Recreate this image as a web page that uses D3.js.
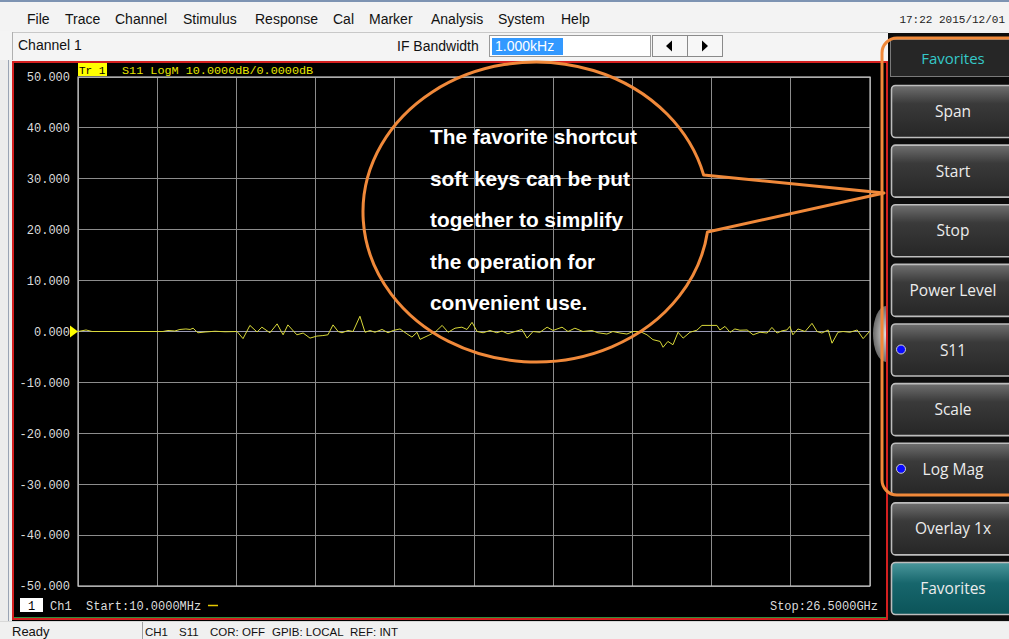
<!DOCTYPE html>
<html><head><meta charset="utf-8">
<script src="https://cdn.jsdelivr.net/npm/d3@7"></script>
<style>
html,body{margin:0;padding:0;background:#f0f0f0;overflow:hidden}
svg{display:block}
</style></head><body>
<script>
// ---------- data ----------
const menuItems = ["File","Trace","Channel","Stimulus","Response","Cal","Marker","Analysis","System","Help"];
const freqGHz = [0.01,0.28,0.48,2.85,3.02,3.25,3.42,3.62,3.76,3.86,4.02,4.26,4.59,4.93,5.33,5.53,5.76,6.00,6.16,6.43,6.67,6.87,7.03,7.33,7.54,7.77,8.00,8.20,8.37,8.54,8.71,8.84,9.04,9.21,9.44,9.61,9.78,9.94,10.18,10.38,10.55,10.78,11.01,11.18,11.35,11.45,11.72,11.95,12.19,12.39,12.62,12.85,13.02,13.19,13.36,13.56,13.79,14.02,14.19,14.39,14.63,14.86,15.03,15.23,15.46,15.70,15.90,16.20,16.40,16.63,16.90,17.20,17.40,17.47,17.70,17.90,18.14,18.37,18.57,18.81,19.04,19.24,19.48,19.58,19.74,19.91,20.08,20.25,20.48,20.71,20.88,21.38,21.48,21.65,21.82,21.98,22.15,22.39,22.59,22.82,23.06,23.22,23.39,23.56,23.72,23.82,23.92,24.09,24.33,24.56,24.73,24.89,25.10,25.23,25.43,25.60,25.83,26.07,26.27,26.50];
const s11dB = [0,0.3,0,0,0.2,0.1,0.4,0.5,0.4,0.65,-0.25,-0.1,0.05,-0.05,0,-1.4,1.2,-0.1,0.85,-0.25,1.5,-0.65,1.3,-0.65,-0.3,-1.3,-0.9,-0.8,-0.65,1.3,0,-0.25,0.2,0,3.0,-0.15,0.2,-0.15,0.4,-0.25,0.2,0.5,-0.45,-1.1,-0.15,-1.55,-0.8,-0.15,1.2,-0.15,0.65,0.85,0.4,1.8,0,-0.25,0.2,-0.25,0.1,-0.45,0,0.4,-1.3,0,-0.15,0.85,0.2,0.85,0,0.65,0,0.2,-0.25,-0.3,-0.5,0,-0.3,-0.5,0,0,-0.65,-1.6,-1.95,-3.1,-1.95,-2.6,-0.15,-1.3,-0.15,0.25,1.2,1.2,0.3,1.0,-0.15,0.5,0.25,0.3,-0.65,-0.15,-0.3,0.8,-0.3,0.15,0.3,1.0,-0.65,0.5,0,1.6,0,-0.3,0.3,-2.3,-0.15,0,-0.15,0.3,-1.4,0.1];
const yTicks = [50,40,30,20,10,0,-10,-20,-30,-40,-50];
const softkeys = ["Span","Start","Stop","Power Level","S11","Scale","Log Mag","Overlay 1x","Favorites"];
const softkeyDots = ["S11","Log Mag"];
const calloutLines = ["The favorite shortcut","soft keys can be put","together to simplify","the operation for","convenient use."];
const statusItems = [{t:"CH1",x:145},{t:"S11",x:179},{t:"COR: OFF",x:210},{t:"GPIB: LOCAL",x:272},{t:"REF: INT",x:350}];

// ---------- setup ----------
const W = 1009, H = 639;
const svg = d3.select("body").append("svg").attr("width", W).attr("height", H);
const defs = svg.append("defs");
const g1 = defs.append("linearGradient").attr("id","btn").attr("x1",0).attr("y1",0).attr("x2",0).attr("y2",1);
g1.append("stop").attr("offset","0").attr("stop-color","#707070");
g1.append("stop").attr("offset","0.35").attr("stop-color","#3a3a3a");
g1.append("stop").attr("offset","1").attr("stop-color","#262626");
const g2 = defs.append("linearGradient").attr("id","btnTeal").attr("x1",0).attr("y1",0).attr("x2",0).attr("y2",1);
g2.append("stop").attr("offset","0").attr("stop-color","#4a979c");
g2.append("stop").attr("offset","0.4").attr("stop-color","#17666c");
g2.append("stop").attr("offset","1").attr("stop-color","#0b5459");
const g3 = defs.append("radialGradient").attr("id","knob");
g3.append("stop").attr("offset","0").attr("stop-color","#e0e0e0");
g3.append("stop").attr("offset","1").attr("stop-color","#6a6a6a");

const uiFont = "'Liberation Sans', Arial, sans-serif";
const monoFont = "'Liberation Mono', 'DejaVu Sans Mono', monospace";
const keyFont = "'Open Sans', 'Noto Sans', sans-serif";

// ---------- menu bar ----------
svg.append("rect").attr("x",0).attr("y",0).attr("width",W).attr("height",31).attr("fill","#f3f3f3");
svg.append("rect").attr("x",0).attr("y",0).attr("width",W).attr("height",2).attr("fill","#7d93b2");
const menuX = [27,65,115,183,255,333,369,431,498,561];
svg.selectAll("text.menu").data(menuItems).join("text").attr("class","menu")
  .attr("x",(d,i)=>menuX[i]).attr("y",24).attr("font-family",uiFont).attr("font-size",14).attr("fill","#111").text(d=>d);
svg.append("text").attr("x",1005).attr("y",23).attr("text-anchor","end").attr("font-family",monoFont)
  .attr("font-size",11).attr("fill","#222").text("17:22 2015/12/01");

// ---------- channel bar ----------
svg.append("rect").attr("x",0).attr("y",31).attr("width",888).attr("height",29).attr("fill","#f4f4f4");
svg.append("line").attr("x1",12).attr("x2",888).attr("y1",32.5).attr("y2",32.5).attr("stroke","#c8c8c8");
svg.append("line").attr("x1",12.5).attr("x2",12.5).attr("y1",32).attr("y2",60).attr("stroke","#b0b0b0");
svg.append("text").attr("x",18).attr("y",50).attr("font-family",uiFont).attr("font-size",14).attr("fill","#111").text("Channel 1");
svg.append("text").attr("x",397).attr("y",51).attr("font-family",uiFont).attr("font-size",14).attr("fill","#111").text("IF Bandwidth");
svg.append("rect").attr("x",489.5).attr("y",35.5).attr("width",161).attr("height",21).attr("fill","#fff").attr("stroke","#9a9a9a");
svg.append("rect").attr("x",492).attr("y",38).attr("width",71).attr("height",17).attr("fill","#3399ff");
svg.append("text").attr("x",495).attr("y",51).attr("font-family",uiFont).attr("font-size",14).attr("fill","#fff").text("1.000kHz");
svg.append("rect").attr("x",652.5).attr("y",35.5).attr("width",70).attr("height",21).attr("fill","#f7f7f7").attr("stroke","#8a8a8a");
svg.append("line").attr("x1",687.5).attr("x2",687.5).attr("y1",36).attr("y2",56).attr("stroke","#8a8a8a");
svg.append("path").attr("d","M666,46 L672,40.5 L672,51.5 Z").attr("fill","#000");
svg.append("path").attr("d","M708,46 L702,40.5 L702,51.5 Z").attr("fill","#000");

// ---------- left frame strip ----------
svg.append("rect").attr("x",0).attr("y",60).attr("width",13).attr("height",561).attr("fill","#ececec");
svg.append("line").attr("x1",8.5).attr("x2",8.5).attr("y1",60).attr("y2",621).attr("stroke","#9aa4b4");

// ---------- chart panel ----------
svg.append("rect").attr("x",12).attr("y",61).attr("width",876).attr("height",560).attr("fill","#000");
const x = d3.scaleLinear().domain([0.01, 26.5]).range([78, 870]);
const y = d3.scaleLinear().domain([-50, 50]).range([586, 77]);

const span = x.domain()[1]-x.domain()[0];
const vGrid = d3.range(11).map(i => x.domain()[0] + i*span/10);
const plot = svg.append("g");
plot.selectAll("line.vg").data(vGrid).join("line").attr("class","vg")
  .attr("x1",d=>x(d)).attr("x2",d=>x(d)).attr("y1",y(50)).attr("y2",y(-50))
  .attr("stroke","#8c8c8c").attr("stroke-width",1).attr("shape-rendering","crispEdges");
plot.selectAll("line.hg").data(yTicks).join("line").attr("class","hg")
  .attr("x1",x.range()[0]).attr("x2",x.range()[1]).attr("y1",d=>y(d)).attr("y2",d=>y(d))
  .attr("stroke",d=>d===0?"#9a9ab4":"#8c8c8c").attr("stroke-width",d=>d===0?1.6:1).attr("shape-rendering","crispEdges");
plot.append("rect").attr("x",x.range()[0]).attr("y",y(50)).attr("width",x.range()[1]-x.range()[0]).attr("height",y(-50)-y(50))
  .attr("fill","none").attr("stroke","#c4c4c4").attr("stroke-width",1.2);

// y axis
const yAxis = d3.axisLeft(y).tickValues(yTicks).tickSize(0).tickPadding(8).tickFormat(d=>d.toFixed(3).replace("\u2212","-"));
const ya = plot.append("g").attr("transform",`translate(${x.range()[0]},0)`).call(yAxis);
ya.select(".domain").remove();
ya.selectAll("text").attr("font-family",monoFont).attr("font-size",12).attr("fill","#dcdcdc");

// trace
const line = d3.line().x((d,i)=>x(freqGHz[i])).y(d=>y(d));
plot.append("path").datum(s11dB).attr("d",line).attr("fill","none").attr("stroke","#d9d93a").attr("stroke-width",1).attr("stroke-linejoin","round");

// reference marker
const r0 = y(0), xl = x.range()[0];
plot.append("path").attr("d",`M${xl},${r0} L${xl-8},${r0-6} L${xl-8},${r0+6} Z`).attr("fill","#ffff00");

// knob on right edge
svg.append("ellipse").attr("cx",886).attr("cy",334).attr("rx",13).attr("ry",28).attr("fill","url(#knob)");

// red border
svg.append("rect").attr("x",13).attr("y",62).attr("width",874).attr("height",557).attr("fill","none").attr("stroke","#d42020").attr("stroke-width",2);

// title
svg.append("rect").attr("x",78).attr("y",63).attr("width",29).attr("height",13).attr("fill","#ffff00");
svg.append("text").attr("x",79).attr("y",73.5).attr("font-family",monoFont).attr("font-size",11).attr("fill","#000").text("Tr 1");
svg.append("text").attr("x",122).attr("y",73.5).attr("font-family",monoFont).attr("font-size",11.8).attr("fill","#e6e600").text("S11 LogM 10.0000dB/0.0000dB");

// bottom labels
svg.append("rect").attr("x",20).attr("y",598).attr("width",23).attr("height",14).attr("fill","#fff");
svg.append("text").attr("x",31.5).attr("y",610).attr("text-anchor","middle").attr("font-family",monoFont).attr("font-size",12).attr("fill","#000").text("1");
svg.append("text").attr("x",50).attr("y",610).attr("font-family",monoFont).attr("font-size",12).attr("fill","#dcdcdc").text("Ch1");
svg.append("text").attr("x",86).attr("y",610).attr("font-family",monoFont).attr("font-size",12).attr("fill","#dcdcdc").text("Start:10.0000MHz");
svg.append("line").attr("x1",208).attr("x2",218).attr("y1",605.5).attr("y2",605.5).attr("stroke","#e6c800").attr("stroke-width",1.5);
svg.append("text").attr("x",878).attr("y",610).attr("text-anchor","end").attr("font-family",monoFont).attr("font-size",12).attr("fill","#dcdcdc").text("Stop:26.5000GHz");
svg.append("line").attr("x1",14).attr("x2",886).attr("y1",617.5).attr("y2",617.5).attr("stroke","#2f8f3a").attr("stroke-width",1);

// ---------- softkey panel ----------
svg.append("rect").attr("x",888).attr("y",33).attr("width",121).attr("height",588).attr("fill","#0c0c0c");
svg.append("rect").attr("x",890.5).attr("y",39.5).attr("width",125).attr("height",37).attr("fill","#262626").attr("stroke","#7a7a7a");
svg.append("text").attr("x",953).attr("y",64).attr("text-anchor","middle").attr("font-family",keyFont).attr("font-size",15).attr("fill","#35c8c8").text("Favorites");

const keyTop = d3.scaleLinear().domain([0, softkeys.length-1]).range([85, 562]);
const keys = svg.selectAll("g.key").data(softkeys).join("g").attr("class","key")
  .attr("transform",(d,i)=>`translate(891,${keyTop(i)})`);
keys.append("rect").attr("x",0.5).attr("y",0.5).attr("width",130).attr("height",52).attr("rx",4)
  .attr("fill",(d,i)=>i===softkeys.length-1?"url(#btnTeal)":"url(#btn)").attr("stroke","#bdbdbd").attr("stroke-width",1.6);
keys.append("text").attr("x",62).attr("y",32).attr("text-anchor","middle").attr("font-family",keyFont).attr("font-size",15.5)
  .attr("fill","#ececec").text(d=>d);
keys.filter(d=>softkeyDots.includes(d)).append("circle").attr("cx",10).attr("cy",26).attr("r",4.5)
  .attr("fill","#0a0aff").attr("stroke","#d0d0d0").attr("stroke-width",1);

// orange rounded frame
svg.append("rect").attr("x",882).attr("y",38).attr("width",160).attr("height",457).attr("rx",15)
  .attr("fill","none").attr("stroke","#f0893a").attr("stroke-width",3);

// ---------- callout ----------
const cx = 536, cy = 212, rx = 173, ry = 150, tip = [884,193];
const aTop = 175, aBot = 232;
const pTop = [cx + rx*Math.sqrt(1-((aTop-cy)/ry)**2), aTop];
const pBot = [cx + rx*Math.sqrt(1-((aBot-cy)/ry)**2), aBot];
svg.append("path").attr("d",`M${pTop[0]},${pTop[1]} A${rx},${ry} 0 1 0 ${pBot[0]},${pBot[1]} L${tip[0]},${tip[1]} Z`)
  .attr("fill","none").attr("stroke","#f0893a").attr("stroke-width",3).attr("stroke-linejoin","round");
svg.selectAll("text.call").data(calloutLines).join("text").attr("class","call")
  .attr("x",430).attr("y",(d,i)=>144+i*41.5).attr("font-family","'Liberation Sans', Arial, sans-serif")
  .attr("font-weight","bold").attr("font-size",20.8).attr("fill","#fff").text(d=>d);

// ---------- status bar ----------
svg.append("rect").attr("x",0).attr("y",621).attr("width",W).attr("height",18).attr("fill","#f0f0f0");
svg.append("line").attr("x1",0).attr("x2",W).attr("y1",621.5).attr("y2",621.5).attr("stroke","#d8d8d8");
svg.append("line").attr("x1",142.5).attr("x2",142.5).attr("y1",622).attr("y2",639).attr("stroke","#a0a0a0");
svg.append("text").attr("x",12).attr("y",636).attr("font-family",uiFont).attr("font-size",13).attr("fill","#111").text("Ready");
svg.selectAll("text.stat").data(statusItems).join("text").attr("class","stat")
  .attr("x",d=>d.x).attr("y",636).attr("font-family",uiFont).attr("font-size",11.5).attr("fill","#111").text(d=>d.t);
</script>
</body></html>
